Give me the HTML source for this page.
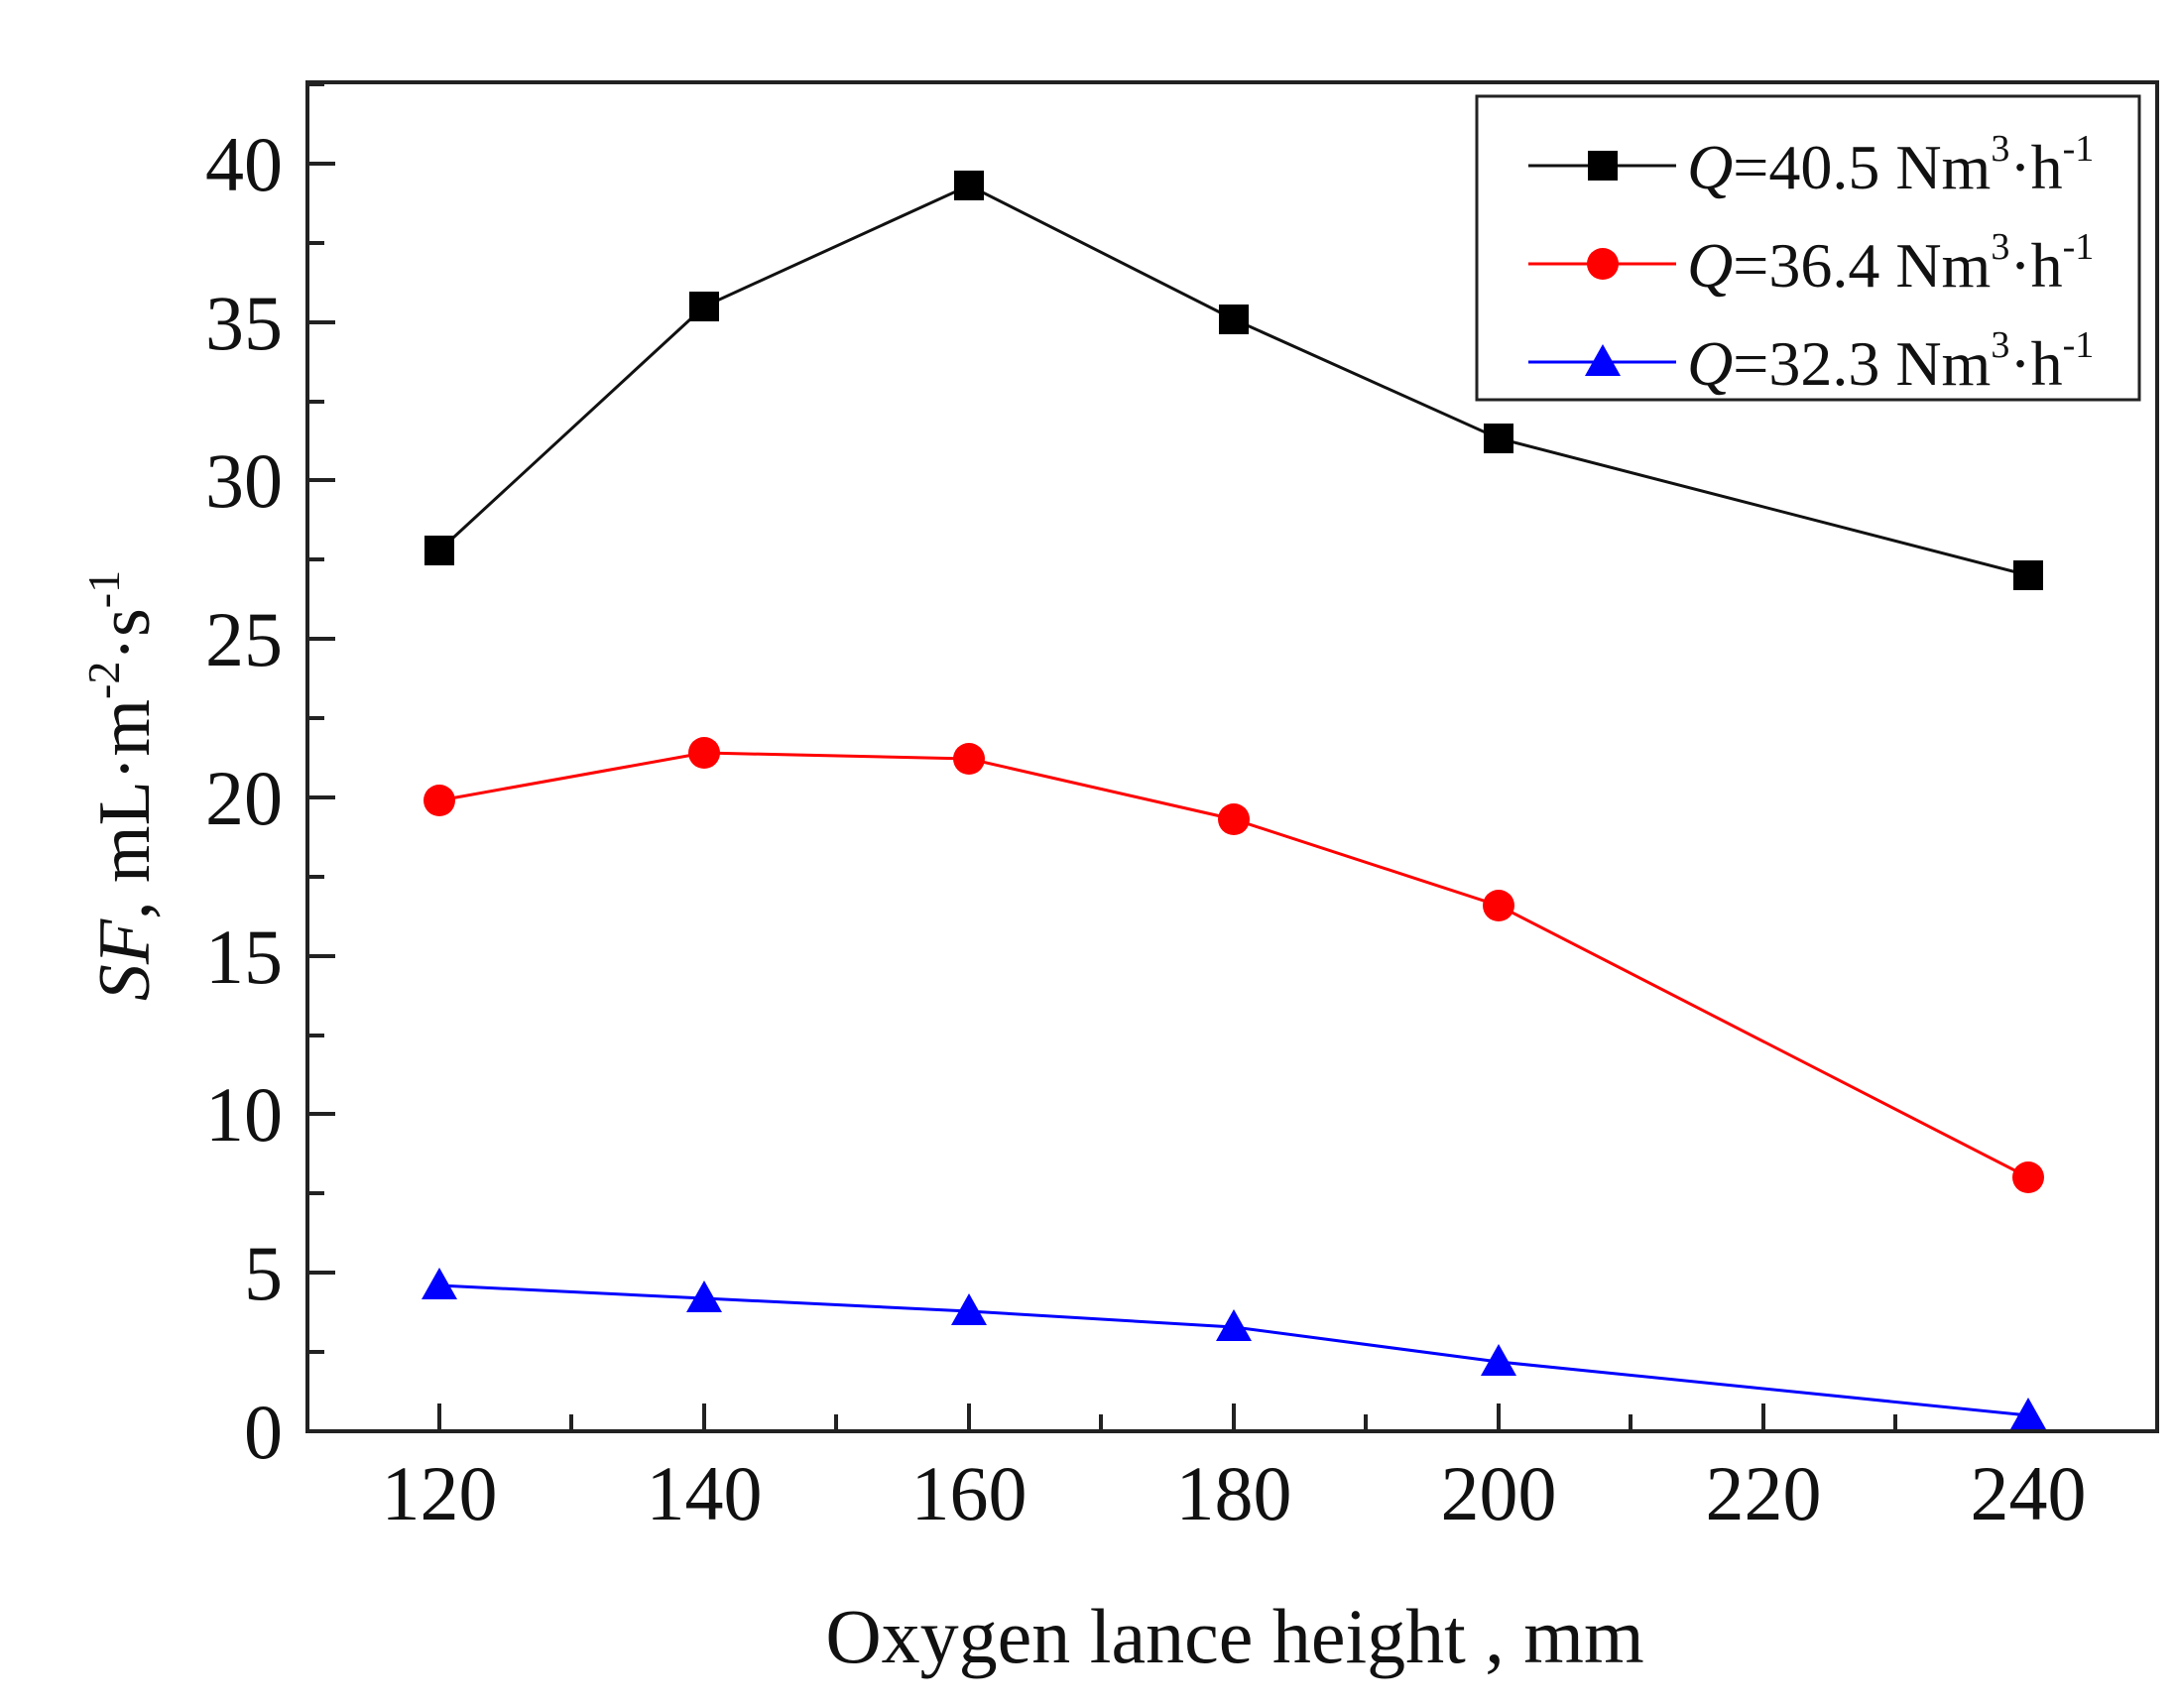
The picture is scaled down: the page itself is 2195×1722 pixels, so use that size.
<!DOCTYPE html>
<html><head><meta charset="utf-8"><style>
html,body{margin:0;padding:0;background:#fff;}
svg{display:block;}
text{font-family:"Liberation Serif",serif;fill:#111;}
</style></head><body>
<svg width="2195" height="1722" viewBox="0 0 2195 1722" xmlns="http://www.w3.org/2000/svg">
<rect width="2195" height="1722" fill="#fff"/>
<g stroke="#222" stroke-width="4">
<line x1="443" y1="1443" x2="443" y2="1415"/>
<line x1="710" y1="1443" x2="710" y2="1415"/>
<line x1="977" y1="1443" x2="977" y2="1415"/>
<line x1="1244" y1="1443" x2="1244" y2="1415"/>
<line x1="1511" y1="1443" x2="1511" y2="1415"/>
<line x1="1778" y1="1443" x2="1778" y2="1415"/>
<line x1="2045" y1="1443" x2="2045" y2="1415"/>
<line x1="576" y1="1443" x2="576" y2="1426"/>
<line x1="843" y1="1443" x2="843" y2="1426"/>
<line x1="1110" y1="1443" x2="1110" y2="1426"/>
<line x1="1377" y1="1443" x2="1377" y2="1426"/>
<line x1="1644" y1="1443" x2="1644" y2="1426"/>
<line x1="1911" y1="1443" x2="1911" y2="1426"/>
</g>
<g stroke="#222" stroke-width="4">
<line x1="310" y1="1283" x2="338" y2="1283"/>
<line x1="310" y1="1123" x2="338" y2="1123"/>
<line x1="310" y1="964" x2="338" y2="964"/>
<line x1="310" y1="804" x2="338" y2="804"/>
<line x1="310" y1="644" x2="338" y2="644"/>
<line x1="310" y1="484" x2="338" y2="484"/>
<line x1="310" y1="325" x2="338" y2="325"/>
<line x1="310" y1="165" x2="338" y2="165"/>
<line x1="310" y1="1363" x2="327" y2="1363"/>
<line x1="310" y1="1203" x2="327" y2="1203"/>
<line x1="310" y1="1044" x2="327" y2="1044"/>
<line x1="310" y1="884" x2="327" y2="884"/>
<line x1="310" y1="724" x2="327" y2="724"/>
<line x1="310" y1="564" x2="327" y2="564"/>
<line x1="310" y1="405" x2="327" y2="405"/>
<line x1="310" y1="245" x2="327" y2="245"/>
<line x1="310" y1="85" x2="327" y2="85"/>
</g>
<rect x="310" y="83" width="1865" height="1360" fill="none" stroke="#222" stroke-width="4"/>
<g font-size="78" text-anchor="end">
<text x="285" y="1470">0</text>
<text x="285" y="1310">5</text>
<text x="285" y="1150">10</text>
<text x="285" y="991">15</text>
<text x="285" y="831">20</text>
<text x="285" y="671">25</text>
<text x="285" y="511">30</text>
<text x="285" y="352">35</text>
<text x="285" y="192">40</text>
</g>
<g font-size="78" text-anchor="middle">
<text x="443" y="1532">120</text>
<text x="710" y="1532">140</text>
<text x="977" y="1532">160</text>
<text x="1244" y="1532">180</text>
<text x="1511" y="1532">200</text>
<text x="1778" y="1532">220</text>
<text x="2045" y="1532">240</text>
</g>
<text x="1245" y="1676" font-size="78" text-anchor="middle">Oxygen lance height , mm</text>
<text transform="translate(150,792) rotate(-90)" font-size="74" text-anchor="middle"><tspan font-style="italic">SF</tspan>, mL·m<tspan dy="-30" font-size="46">-2</tspan><tspan dy="30">·s</tspan><tspan dy="-30" font-size="46">-1</tspan></text>
<polyline fill="none" stroke="#111" stroke-width="3" points="443,555 710,309 977,187 1244,322 1511,442 2045,580"/>
<g fill="#000">
<rect x="428" y="540" width="30" height="30"/><rect x="695" y="294" width="30" height="30"/><rect x="962" y="172" width="30" height="30"/><rect x="1229" y="307" width="30" height="30"/><rect x="1496" y="427" width="30" height="30"/><rect x="2030" y="565" width="30" height="30"/>
</g>
<polyline fill="none" stroke="#f00" stroke-width="3" points="443,807 710,759 977,765 1244,826 1511,913 2045,1187"/>
<g fill="#f00">
<circle cx="443" cy="807" r="16"/><circle cx="710" cy="759" r="16"/><circle cx="977" cy="765" r="16"/><circle cx="1244" cy="826" r="16"/><circle cx="1511" cy="913" r="16"/><circle cx="2045" cy="1187" r="16"/>
</g>
<polyline fill="none" stroke="#00f" stroke-width="3" points="443,1296 710,1309 977,1322 1244,1338 1511,1373 2045,1427"/>
<g fill="#00f">
<polygon points="443,1278 461,1310 425,1310"/><polygon points="710,1291 728,1323 692,1323"/><polygon points="977,1304 995,1336 959,1336"/><polygon points="1244,1320 1262,1352 1226,1352"/><polygon points="1511,1355 1529,1387 1493,1387"/><polygon points="2045,1409 2063,1441 2027,1441"/>
</g>
<rect x="1489" y="97" width="668" height="306" fill="#fff" stroke="#222" stroke-width="3"/>
<line x1="1541" y1="167" x2="1690" y2="167" stroke="#111" stroke-width="3"/>
<rect x="1601" y="152" width="30" height="30" fill="#000"/>
<line x1="1541" y1="266" x2="1690" y2="266" stroke="#f00" stroke-width="3"/>
<circle cx="1616" cy="266" r="16" fill="#f00"/>
<line x1="1541" y1="365" x2="1690" y2="365" stroke="#00f" stroke-width="3"/>
<polygon points="1616,347 1634,379 1598,379" fill="#00f"/>
<g font-size="64">
<text x="1701" y="190"><tspan font-style="italic">Q</tspan>=40.5 Nm<tspan dy="-28" font-size="38">3</tspan><tspan dy="28">·h</tspan><tspan dy="-28" font-size="38">-1</tspan></text>
<text x="1701" y="289"><tspan font-style="italic">Q</tspan>=36.4 Nm<tspan dy="-28" font-size="38">3</tspan><tspan dy="28">·h</tspan><tspan dy="-28" font-size="38">-1</tspan></text>
<text x="1701" y="388"><tspan font-style="italic">Q</tspan>=32.3 Nm<tspan dy="-28" font-size="38">3</tspan><tspan dy="28">·h</tspan><tspan dy="-28" font-size="38">-1</tspan></text>
</g>
</svg>
</body></html>
